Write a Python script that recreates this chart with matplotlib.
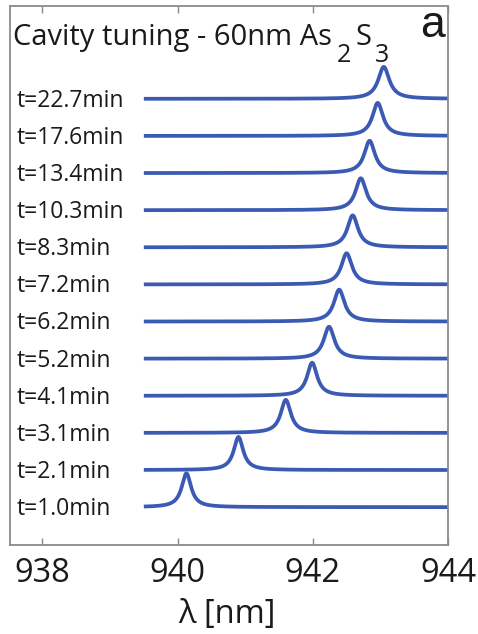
import numpy as np
import matplotlib
matplotlib.use("Agg")
import matplotlib.pyplot as plt

# times and resonance positions (bottom -> top)
times = ["1.0", "2.1", "3.1", "4.1", "5.2", "6.2", "7.2", "8.3", "10.3", "13.4", "17.6", "22.7"]
peak_nm = [940.13, 940.90, 941.60, 941.99, 942.24, 942.39, 942.50, 942.59, 942.71, 942.84, 942.96, 943.05]
peak_amp = [0.91, 0.89, 0.89, 0.89, 0.86, 0.86, 0.84, 0.86, 0.86, 0.87, 0.89, 0.86]
fwhm_nm = [0.17, 0.17, 0.18, 0.18, 0.19, 0.19, 0.19, 0.19, 0.19, 0.19, 0.19, 0.2]
xticks = [938, 940, 942, 944]

blue = "#3a5ab4"
grey = "#8a8a8a"

plt.rcParams['font.family'] = ['Open Sans', 'DejaVu Sans']

fig = plt.figure(figsize=(4.78, 6.34), dpi=100)
ax = fig.add_axes([10 / 478, 1 - 545 / 634, 438 / 478, 539 / 634])

wl = np.linspace(939.5, 944.2, 1500)
for i, (c, a, w) in enumerate(zip(peak_nm, peak_amp, fwhm_nm)):
    hw = w / 2
    spec = a * hw ** 2 / ((wl - c) ** 2 + hw ** 2)
    ax.plot(wl, i + spec, color=blue, lw=2.7, solid_capstyle='butt')
    ax.text(0.014, i - 0.05, f"t={times[i]}min", transform=ax.get_yaxis_transform(),
            ha='left', va='center', fontsize=16.5, color='#1a1a1a')

ax.set_xlim(937.52, 944.0)
ax.set_ylim(-1.02, 13.5)
ax.set_yticks([])
ax.set_xticks(xticks)
ax.set_xticklabels([str(v) for v in xticks], fontsize=23.5, color='#1a1a1a')
ax.tick_params(axis='x', direction='in', length=5, width=1, color=grey, top=True, pad=9)
for s in ax.spines.values():
    s.set_color(grey)
    s.set_linewidth(1.3)

# title pieces with MATLAB-like big subscripts
pieces = [("Cavity tuning - 60nm As", 0, 21, 0), ("2", -17, 18, 5), ("S", 0, 21, 4), ("3", -17, 18, 4)]
fig.canvas.draw()
r = fig.canvas.get_renderer()
x_px = ax.transAxes.transform((0, 0))[0] + 3
base_px = fig.bbox.height - 45
for txt, dy, fs, gap in pieces:
    x_px += gap
    t = fig.text(x_px / fig.bbox.width, (base_px + dy) / fig.bbox.height, txt,
                 fontsize=fs, ha='left', va='baseline', color='#1a1a1a')
    x_px = t.get_window_extent(r).x1

ax.text(0.992, 1 - 31 / 539, "a", transform=ax.transAxes, ha='right', va='baseline',
        fontsize=32, family='Liberation Sans', color='#1a1a1a')

fig.text(0.475, 0.004, "λ [nm]", ha='center', va='bottom', fontsize=23.5, color='#1a1a1a')

fig.savefig("out.png", dpi=100)
